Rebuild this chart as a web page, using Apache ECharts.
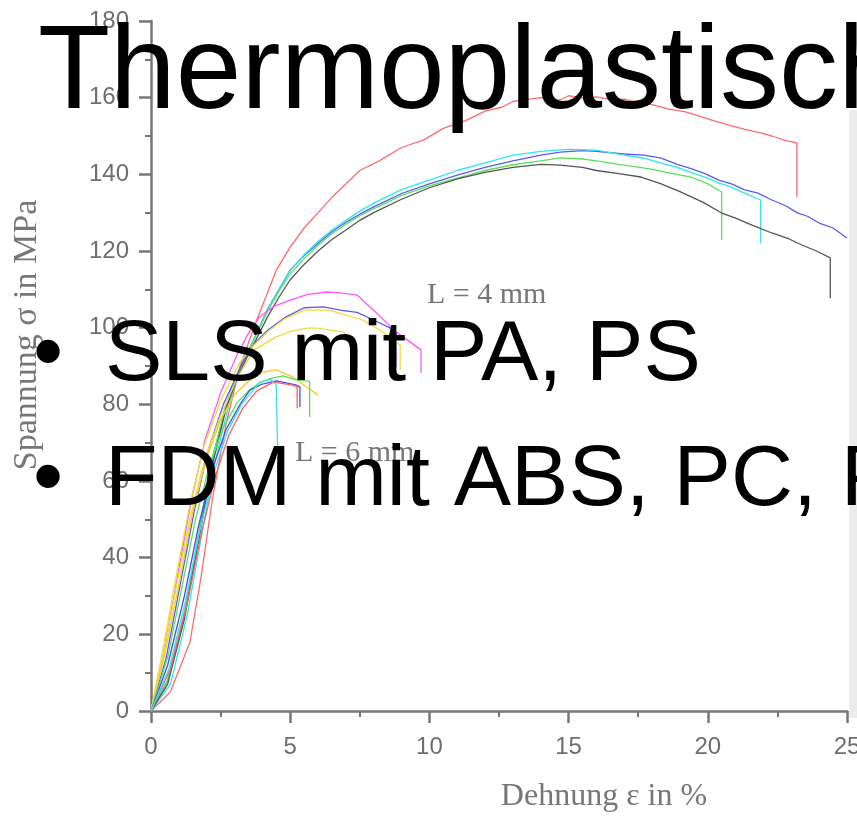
<!DOCTYPE html>
<html>
<head>
<meta charset="utf-8">
<script src="https://cdn.jsdelivr.net/npm/echarts@6/dist/echarts.min.js"></script>
<style>
  html,body{margin:0;padding:0;background:#fff;}
  #main{width:857px;height:817px;}
</style>
</head>
<body>
<div id="main"></div>
<script>
// Dehnung (%) / Spannung (MPa) pairs
// L = 4 mm
var redL4 = [[0,0],[0.7,5],[1.4,18],[1.8,35],[2.2,55],[2.7,75],[3.2,90],[3.8,102],[4.5,115],[5,121],[5.5,126],[6,130],[6.5,134],[7,137.5],[7.5,141],[8.2,143.5],[9,147],[9.8,149],[10.5,152],[11.3,154],[12,156.5],[12.6,157.5],[13,159],[13.6,159.6],[14,160],[14.7,159.4],[15,160.5],[15.6,159.8],[16,160.2],[16.6,159.4],[17,159.6],[17.6,158.5],[18,158.2],[18.6,157],[19.2,156.3],[19.7,155.2],[20.2,154],[20.8,152.8],[21.4,151.6],[21.9,150.8],[22.3,150],[22.8,148.8],[23.2,148.2],[23.2,134]];
var blueL4 = [[0,0],[0.6,8],[1.2,25],[1.7,45],[2.2,65],[2.7,80],[3.1,88],[3.5,94],[4.2,105],[4.6,110],[5,115],[5.5,118.8],[6,122],[6.5,125],[7,127.5],[7.5,129.6],[8,131.5],[9,135],[10,137.5],[11,139.8],[12,141.8],[13,143.5],[14,145],[14.7,145.8],[15.5,146.2],[16,146],[17,145.3],[17.7,145],[18.3,144.3],[18.9,142.6],[19.4,141.5],[19.9,140.2],[20.4,138.5],[20.9,137.4],[21.3,136],[21.8,135.1],[22.3,133.3],[22.8,131.8],[23.2,130],[23.6,129],[24,127.3],[24.5,126],[25,123.4]];
var cyanL4 = [[0,0],[0.7,7],[1.3,25],[1.8,45],[2.3,65],[2.8,80],[3.1,87],[3.5,94],[4.2,105],[4.6,110],[5,115],[5.5,119],[6,122.5],[6.5,125.5],[7,128],[7.5,130.4],[8,132.5],[9,136],[10,138.5],[11,141],[12,143],[13,145],[14,146],[14.7,146.4],[15,146.5],[16,146.3],[17,145],[17.7,144.2],[18.3,143],[18.9,141.8],[19.4,140.5],[20,139],[20.4,137.7],[20.8,136.8],[21.2,135.5],[21.9,133.3],[21.9,122]];
var greenL4 = [[0,0],[0.6,8],[1.2,26],[1.7,46],[2.2,66],[2.7,80],[3.1,88],[3.5,94],[4.2,104.5],[4.6,109.5],[5,114],[5.5,118],[6,121.5],[6.5,124.5],[7,127],[7.5,129.2],[8,131],[9,134.5],[10,137],[11,139],[12,141],[13,142.5],[14,143.5],[14.7,144.3],[15.5,144],[16,143.5],[16.8,142.6],[17.5,141.9],[18,141.3],[18.5,140.5],[19.4,139.3],[20,137.5],[20.5,135.4],[20.5,122.9]];
var blackL4 = [[0,0],[0.6,7],[1.2,24],[1.7,44],[2.2,64],[2.7,79],[3.1,87],[3.5,93],[4.2,103],[4.6,108],[5,112.5],[5.5,116.5],[6,120],[6.5,123],[7,125.5],[7.5,128],[8,130],[9,133.5],[10,136.5],[11,138.8],[12,140.5],[13,141.8],[14,142.6],[14.7,142.4],[15.5,141.8],[16,141],[16.8,140.2],[17.6,139.3],[18.3,137.6],[19,135.5],[19.8,132.8],[20.5,129.9],[21,128.6],[21.5,127],[22.3,124.7],[22.9,123.2],[23.4,121.5],[23.9,120],[24.4,118.2],[24.4,107.7]];

// L = 6 mm, oberes Buendel
var magentaM = [[0,0],[0.45,15],[0.95,35],[1.45,55],[1.95,71],[2.5,83],[3.1,93],[3.5,98.5],[3.9,102.8],[4.4,105.5],[5,107.2],[5.6,108.6],[6.3,109.3],[6.9,109],[7.4,108.5],[7.7,106.5],[8.1,103.8],[8.8,98.9],[9.7,94.2],[9.7,88.2]];
var blueM = [[0,0],[0.55,14],[1.05,33],[1.55,52],[2.05,68],[2.6,80],[3.3,91],[3.7,95.8],[4.2,99.4],[4.8,102.6],[5.5,105.2],[6.2,105.4],[6.8,104.6],[7.4,104],[8,102],[8.6,99.9],[8.8,98.6],[8.8,89.7]];
var yellowM = [[0,0],[0.4,15],[0.9,35],[1.4,54],[1.9,69],[2.5,81],[3.2,91],[3.7,95.5],[4.2,99],[4.8,102.3],[5.5,104.6],[6.4,104.6],[7.6,102],[8.2,99.5],[8.7,96.8],[8.95,95.5],[8.95,89]];
var yellow2M = [[0,0],[0.45,15],[0.95,34],[1.45,52],[1.95,66],[2.5,77],[3.1,87],[3.7,94.2],[4.5,97.6],[5,99],[5.6,99.9],[5.95,99.9],[6.9,98.9],[7.3,96.3],[7.4,95.5],[7.4,89.7]];

// L = 6 mm, unteres Buendel
var yellowU = [[0,0],[0.5,15],[1,33],[1.5,52],[2,66],[2.5,76],[3,82.5],[3.5,86],[4,88.4],[4.5,89],[5.1,87.1],[5.6,84.5],[6,82.4]];
var greenU = [[0,0],[0.6,14],[1.1,32],[1.6,50],[2.1,64],[2.6,74],[3.1,80.5],[3.5,83.5],[3.9,85.6],[4.3,86.8],[4.75,87.4],[5.2,86.4],[5.7,86],[5.7,76.7]];
var blueU = [[0,0],[0.6,12],[1.2,30],[1.7,48],[2.2,63],[2.7,73.5],[3.2,80],[3.55,83.7],[4,85.3],[4.5,86.1],[5.2,85.1],[5.35,84.5],[5.35,79.3]];
var redU = [[0,0],[0.7,11],[1.3,28],[1.8,46],[2.3,61],[2.8,72],[3.3,79],[3.8,83.5],[4.4,85.8],[5.1,85],[5.25,84.5],[5.25,79]];
var cyanU = [[0,0],[0.65,11],[1.25,29],[1.75,47],[2.25,62],[2.75,73],[3.25,80],[3.9,85.8],[4.3,86.5],[4.5,85],[4.55,67.3]];

var curves = [
    [redL4,'#ff6b6b'],[blueL4,'#5a5af0'],[cyanL4,'#2ee6f0'],[greenL4,'#5ce05c'],[blackL4,'#555555'],
    [magentaM,'#ff55ff'],[blueM,'#5a5af0'],[yellowM,'#eedc3c'],[yellow2M,'#eedc3c'],
    [yellowU,'#eecc30'],[greenU,'#5ce05c'],[blueU,'#4a4aee'],[redU,'#ff6060'],[cyanU,'#2ee6f0']
];

var axisGrey = '#777777';
var sans = '"Liberation Sans", Arial, sans-serif';
var serif = '"Liberation Serif", "Times New Roman", serif';

var seriesList = [];
for (var i = 0; i < curves.length; i++) {
    seriesList.push({
        type: 'line',
        data: curves[i][0],
        showSymbol: false,
        lineStyle: { color: curves[i][1], width: 1.3 },
        z: 3
    });
}

var myChart = echarts.init(document.getElementById('main'));
myChart.setOption({
    animation: false,
    backgroundColor: '#ffffff',
    grid: { left: 151, right: 10, top: 21, bottom: 106, outerBoundsMode: 'none' },
    xAxis: {
        type: 'value', min: 0, max: 25, interval: 5,
        axisLine: { lineStyle: { color: axisGrey, width: 2.5 } },
        axisTick: { length: 12, lineStyle: { color: axisGrey, width: 2.5 } },
        minorTick: { show: true, splitNumber: 2, length: 6, lineStyle: { color: axisGrey, width: 2 } },
        splitLine: { show: false },
        axisLabel: { color: '#6e6e6e', fontSize: 24, fontFamily: sans, margin: 24 }
    },
    yAxis: {
        type: 'value', min: 0, max: 180, interval: 20,
        axisLine: { show: true, lineStyle: { color: axisGrey, width: 2.5 } },
        axisTick: { show: true, length: 12, lineStyle: { color: axisGrey, width: 2.5 } },
        minorTick: { show: true, splitNumber: 2, length: 6, lineStyle: { color: axisGrey, width: 2 } },
        splitLine: { show: false },
        axisLabel: { color: '#6e6e6e', fontSize: 24, fontFamily: sans, margin: 22 }
    },
    series: seriesList,
    graphic: [
        { type: 'rect', shape: { x: 849, y: 110, width: 8, height: 608 }, style: { fill: '#ececec' }, z: 0 },
        { type: 'text', x: 27, y: 335, rotation: Math.PI / 2, z: 5,
          style: { text: 'Spannung σ in MPa', font: '34px ' + serif, fill: '#777', align: 'center', verticalAlign: 'middle' } },
        { type: 'text', x: 604, y: 797, z: 5,
          style: { text: 'Dehnung ε in %', font: '32px ' + serif, fill: '#777', align: 'center', verticalAlign: 'middle' } },
        { type: 'text', x: 427, y: 295, z: 5,
          style: { text: 'L = 4 mm', font: '30px ' + serif, fill: '#777', align: 'left', verticalAlign: 'middle' } },
        { type: 'text', x: 295, y: 453, z: 5,
          style: { text: 'L = 6 mm', font: '30px ' + serif, fill: '#777', align: 'left', verticalAlign: 'middle' } },
        // Folientext ueber dem Diagramm
        { type: 'text', x: 38, y: 75, z: 10,
          style: { text: 'Thermoplastisch', font: '118px ' + sans, fill: '#000', align: 'left', verticalAlign: 'middle' } },
        { type: 'text', x: 48, y: 356, z: 10,
          style: { text: '•', font: '86px ' + sans, fill: '#000', align: 'center', verticalAlign: 'middle' } },
        { type: 'text', x: 105, y: 356, z: 10,
          style: { text: 'SLS mit PA, PS', font: '86px ' + sans, fill: '#000', align: 'left', verticalAlign: 'middle' } },
        { type: 'text', x: 48, y: 481, z: 10,
          style: { text: '•', font: '86px ' + sans, fill: '#000', align: 'center', verticalAlign: 'middle' } },
        { type: 'text', x: 105, y: 481, z: 10,
          style: { text: 'FDM mit ABS, PC, PPSF', font: '86px ' + sans, fill: '#000', align: 'left', verticalAlign: 'middle' } }
    ]
});
</script>
</body>
</html>
